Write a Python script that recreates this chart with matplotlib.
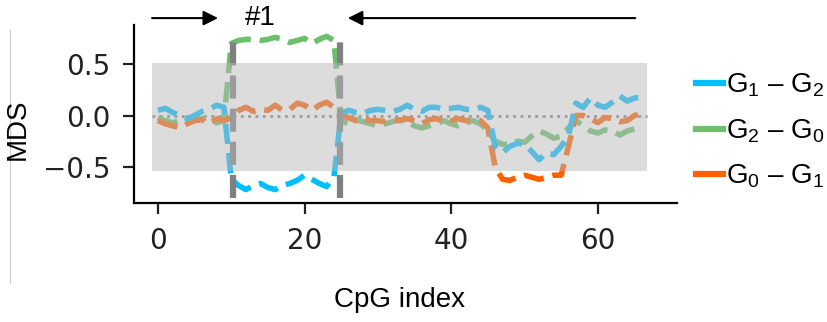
import numpy as np
import matplotlib
matplotlib.use("Agg")
from matplotlib import pyplot as plt
from matplotlib.lines import Line2D
from matplotlib.patches import Rectangle

plt.rcParams['mathtext.fontset'] = 'custom'
plt.rcParams['mathtext.rm'] = 'Liberation Sans'
plt.rcParams['mathtext.it'] = 'Liberation Sans:italic'

labels = ['G$_1$ – G$_2$', 'G$_2$ – G$_0$', 'G$_0$ – G$_1$']
colors = ['#00bfff', '#6cbf6c', '#ff6000']

g12 = [0.05, 0.07, 0.03, 0.0, -0.03, 0.0, 0.04, 0.06, 0.10, 0.08,
       -0.62, -0.68, -0.72, -0.68, -0.66, -0.70, -0.72, -0.68, -0.66, -0.63,
       -0.58, -0.62, -0.66, -0.69, -0.60,
       0.02, 0.05, 0.03, 0.02, 0.05, 0.06, 0.05, 0.04, 0.06, 0.10,
       0.06, 0.04, 0.08, 0.08, 0.06, 0.07, 0.08, 0.06, 0.06, 0.08,
       0.05, -0.30, -0.36, -0.30, -0.27, -0.28, -0.35, -0.43, -0.36, -0.38,
       -0.30, -0.20,
       0.12, 0.08, 0.17, 0.10, 0.08, 0.13, 0.19, 0.14, 0.17, 0.18]
g20 = [-0.02, -0.05, -0.07, -0.05, -0.03, -0.05, -0.03, -0.02, -0.07, -0.05,
       0.70, 0.73, 0.74, 0.74, 0.73, 0.74, 0.76, 0.74, 0.71, 0.73,
       0.75, 0.70, 0.74, 0.77, 0.73,
       -0.05, -0.08, -0.04, -0.06, -0.08, -0.10, -0.08, -0.06, -0.04, -0.06,
       -0.10, -0.12, -0.10, -0.08, -0.05, -0.08, -0.10, -0.07, -0.05, -0.08,
       -0.15, -0.25, -0.28, -0.28, -0.25, -0.26, -0.20, -0.15, -0.18, -0.22,
       -0.20, -0.12,
       -0.05, -0.10, -0.15, -0.17, -0.14, -0.15, -0.19, -0.15, -0.13, -0.13]
g01 = [-0.05, -0.08, -0.10, -0.12, -0.08, -0.05, -0.04, -0.08, -0.03, -0.05,
       -0.02, 0.05, 0.08, 0.04, 0.06, 0.05, 0.10, 0.05, 0.06, 0.12,
       0.10, 0.05, 0.10, 0.13, 0.08,
       0.0, -0.02, -0.05, -0.03, -0.05, -0.05, -0.06, -0.04, -0.05, -0.03,
       -0.05, -0.08, -0.04, -0.03, -0.06, -0.05, -0.03, -0.05, -0.04, -0.05,
       -0.12, -0.50, -0.62, -0.63, -0.60, -0.58, -0.60, -0.62, -0.60, -0.58,
       -0.58, -0.30,
       0.0, 0.0, -0.03, -0.07, -0.02, -0.03, -0.06, -0.05, 0.0, 0.02]
series = [g12, g20, g01]
cpg = np.arange(len(g12))

# region #1 boundaries and the shaded null band
region_edges = [10.2, 24.9]
band_x = (-0.8, 66.7)
band_y = (-0.535, 0.51)

fig = plt.figure(figsize=(8.27, 3.22), dpi=100)
ax = fig.add_axes([0.162, 0.3696, 0.6566, 0.5528])

for s, c, z in zip(series, colors, [4, 2, 3]):
    ax.plot(cpg, s, '--', color=c, lw=4, zorder=z)

ax.vlines(region_edges, -0.8, 0.77, colors='grey', linestyles='--', lw=4.5, zorder=5)
ax.hlines(0, band_x[0], band_x[1], colors='grey', linestyles=':', lw=2, zorder=1)
ax.add_patch(Rectangle((band_x[0], band_y[0]), band_x[1] - band_x[0], band_y[1] - band_y[0],
                       facecolor='#b8b8b8', alpha=0.49, edgecolor='none', zorder=6))

ax.set_xlim(-3.27, 70.8)
ax.set_ylim(-0.85, 0.88)
ax.set_xticks([0, 20, 40, 60])
ax.set_yticks([-0.5, 0.0, 0.5])
ax.tick_params(labelsize=20, length=8, width=1.6, pad=9, colors='#222222')
for side in ['top', 'right']:
    ax.spines[side].set_visible(False)
for side in ['left', 'bottom']:
    ax.spines[side].set_linewidth(1.6)

# arrows marking region #1
ya = 0.947
ap = dict(arrowstyle='-|>', color='k', lw=1.5, mutation_scale=22, shrinkA=0, shrinkB=0)
ax.annotate('', xy=(8.2, ya), xytext=(-0.8, ya), arrowprops=ap, annotation_clip=False)
ax.annotate('', xy=(25.9, ya), xytext=(65.1, ya), arrowprops=ap, annotation_clip=False)
ax.text(14.0, ya, '#1', ha='center', va='center', fontsize=20,
        family='Liberation Sans', clip_on=False)

handles = [Line2D([], [], color=c, lw=4.5) for c in colors]
fig.legend(handles, labels, loc='center left', bbox_to_anchor=(0.842, 0.593),
           frameon=False, handlelength=0.95, handletextpad=0.12,
           labelspacing=0.65, borderpad=0, borderaxespad=0,
           prop={'family': 'Liberation Sans', 'size': 20})

fig.text(18 / 827, 1 - 129 / 322, 'MDS', rotation=90, ha='center', va='center',
         fontsize=20, family='Liberation Sans')
fig.text(400 / 827, 1 - 300 / 322, 'CpG index', ha='center', va='center',
         fontsize=20, family='Liberation Sans')
fig.add_artist(Line2D([9.5 / 827, 9.5 / 827], [1 - 30 / 322, 1 - 283 / 322],
                      color='#c8c8c8', lw=0.8))

fig.savefig('out.png', dpi=100)
